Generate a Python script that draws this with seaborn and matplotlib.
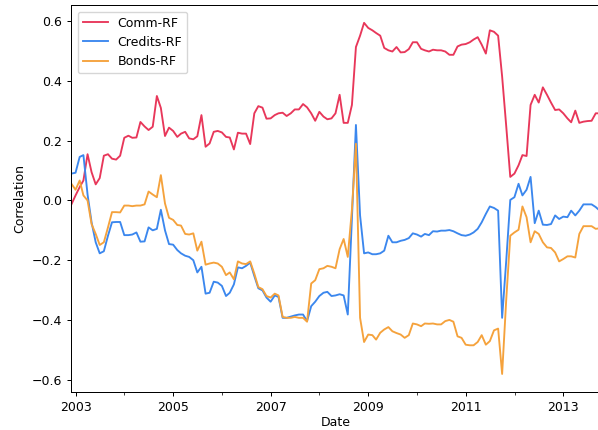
import pandas as pd
import numpy as np
import matplotlib
matplotlib.use("Agg")
import matplotlib.pyplot as plt
import matplotlib.dates as mdates
import seaborn as sns

# --- DATI (mensili fine mese) ---
start_month = "2002-11-30"
n_months = 131

comm_rf = [
    -0.013, 0.017, 0.045, 0.067, 0.155, 0.095, 0.054, 0.075, 0.150, 0.155,
    0.140, 0.137, 0.150, 0.210, 0.217, 0.210, 0.211, 0.263, 0.248, 0.236,
    0.247, 0.350, 0.310, 0.216, 0.244, 0.233, 0.213, 0.224, 0.230, 0.208,
    0.205, 0.215, 0.286, 0.180, 0.191, 0.230, 0.233, 0.228, 0.213, 0.211,
    0.171, 0.227, 0.224, 0.224, 0.189, 0.292, 0.316, 0.311, 0.274, 0.275,
    0.286, 0.292, 0.294, 0.283, 0.292, 0.305, 0.305, 0.323, 0.312, 0.292,
    0.267, 0.297, 0.281, 0.272, 0.275, 0.292, 0.354, 0.260, 0.260, 0.320,
    0.514, 0.552, 0.595, 0.578, 0.570, 0.561, 0.552, 0.511, 0.503, 0.499,
    0.514, 0.496, 0.497, 0.507, 0.530, 0.530, 0.508, 0.503, 0.499, 0.505,
    0.503, 0.503, 0.499, 0.488, 0.488, 0.516, 0.522, 0.524, 0.530, 0.539,
    0.547, 0.522, 0.492, 0.570, 0.565, 0.552, 0.415, 0.247, 0.079, 0.090,
    0.118, 0.152, 0.149, 0.320, 0.354, 0.328, 0.379, 0.354, 0.328, 0.303,
    0.305, 0.292, 0.275, 0.262, 0.301, 0.260, 0.264, 0.266, 0.267, 0.292,
    0.292,
]

credits_rf = [
    0.090, 0.093, 0.146, 0.152, 0.020, -0.073, -0.140, -0.177, -0.170, -0.118,
    -0.073, -0.072, -0.072, -0.116, -0.116, -0.114, -0.107, -0.138, -0.137, -0.090,
    -0.100, -0.095, -0.031, -0.100, -0.146, -0.148, -0.166, -0.177, -0.185, -0.189,
    -0.200, -0.241, -0.222, -0.312, -0.309, -0.272, -0.275, -0.286, -0.320, -0.309,
    -0.281, -0.224, -0.227, -0.219, -0.208, -0.253, -0.294, -0.301, -0.325, -0.339,
    -0.318, -0.323, -0.393, -0.393, -0.389, -0.385, -0.382, -0.382, -0.404, -0.354,
    -0.339, -0.320, -0.309, -0.306, -0.320, -0.318, -0.314, -0.318, -0.382, -0.060,
    0.253, -0.050, -0.177, -0.174, -0.180, -0.180, -0.177, -0.168, -0.118, -0.140,
    -0.140, -0.135, -0.132, -0.126, -0.110, -0.114, -0.121, -0.112, -0.116, -0.103,
    -0.104, -0.101, -0.101, -0.099, -0.103, -0.110, -0.116, -0.118, -0.114, -0.107,
    -0.095, -0.073, -0.045, -0.020, -0.025, -0.034, -0.393, -0.200, 0.002, 0.011,
    0.056, 0.017, 0.036, 0.079, -0.076, -0.034, -0.081, -0.082, -0.079, -0.050,
    -0.062, -0.054, -0.056, -0.034, -0.050, -0.034, -0.013, -0.013, -0.013, -0.022,
    -0.034,
]

bonds_rf = [
    0.056, 0.036, 0.067, 0.017, 0.000, -0.079, -0.112, -0.149, -0.140, -0.090,
    -0.039, -0.039, -0.040, -0.017, -0.017, -0.019, -0.017, -0.017, -0.013, 0.030,
    0.020, 0.011, 0.085, -0.010, -0.058, -0.065, -0.082, -0.084, -0.112, -0.114,
    -0.110, -0.168, -0.138, -0.215, -0.211, -0.208, -0.211, -0.222, -0.250, -0.241,
    -0.264, -0.204, -0.211, -0.213, -0.204, -0.245, -0.290, -0.297, -0.320, -0.325,
    -0.312, -0.318, -0.390, -0.393, -0.393, -0.390, -0.393, -0.393, -0.406, -0.278,
    -0.267, -0.230, -0.227, -0.219, -0.222, -0.227, -0.163, -0.129, -0.189, -0.030,
    0.190, -0.393, -0.474, -0.449, -0.451, -0.466, -0.443, -0.432, -0.424, -0.438,
    -0.444, -0.449, -0.460, -0.451, -0.412, -0.415, -0.421, -0.412, -0.413, -0.412,
    -0.415, -0.415, -0.404, -0.400, -0.406, -0.455, -0.460, -0.483, -0.485, -0.485,
    -0.474, -0.451, -0.483, -0.471, -0.435, -0.429, -0.581, -0.330, -0.118, -0.107,
    -0.098, -0.020, -0.056, -0.140, -0.103, -0.112, -0.140, -0.157, -0.159, -0.174,
    -0.204, -0.196, -0.187, -0.187, -0.191, -0.112, -0.086, -0.086, -0.086, -0.095,
    -0.093,
]

series_names = ["Comm-RF", "Credits-RF", "Bonds-RF"]
series_colors = ["#E8375A", "#3B87EE", "#F5A23C"]
major_years = [2003, 2005, 2007, 2009, 2011, 2013]

dates = pd.date_range(start_month, periods=n_months, freq="ME")
df = pd.DataFrame({"Date": dates, "Comm-RF": comm_rf,
                   "Credits-RF": credits_rf, "Bonds-RF": bonds_rf})

# --- STILE (default matplotlib, leggermente ridotto) ---
plt.rcParams.update({
    "font.size": 9,
    "lines.linewidth": 1.35,
    "axes.linewidth": 0.72,
    "xtick.major.size": 3.15,
    "ytick.major.size": 3.15,
    "xtick.minor.size": 1.8,
    "xtick.major.width": 0.72,
    "ytick.major.width": 0.72,
    "xtick.minor.width": 0.54,
    "legend.fontsize": 9,
})

# --- GRAFICO ---
fig = plt.figure(figsize=(5.98, 4.30), dpi=100)
ax = fig.add_axes([0.1194, 0.0895, 0.8835, 0.8982])

for name, col in zip(series_names, series_colors):
    sns.lineplot(data=df, x="Date", y=name, color=col, linewidth=1.35,
                 label=name, ax=ax)

ax.set_xlim(df["Date"].iloc[0], df["Date"].iloc[-1])
ax.xaxis.set_major_locator(plt.FixedLocator(
    mdates.date2num([pd.Timestamp(f"{y}-01-01") for y in major_years])))
ax.xaxis.set_major_formatter(mdates.DateFormatter("%Y"))
ax.xaxis.set_minor_locator(mdates.YearLocator(1))

ax.set_xlabel("Date", labelpad=1.5)
ax.set_ylabel("Correlation")
ax.legend(loc="upper left")

plt.savefig("out.png", dpi=100)
plt.close()
